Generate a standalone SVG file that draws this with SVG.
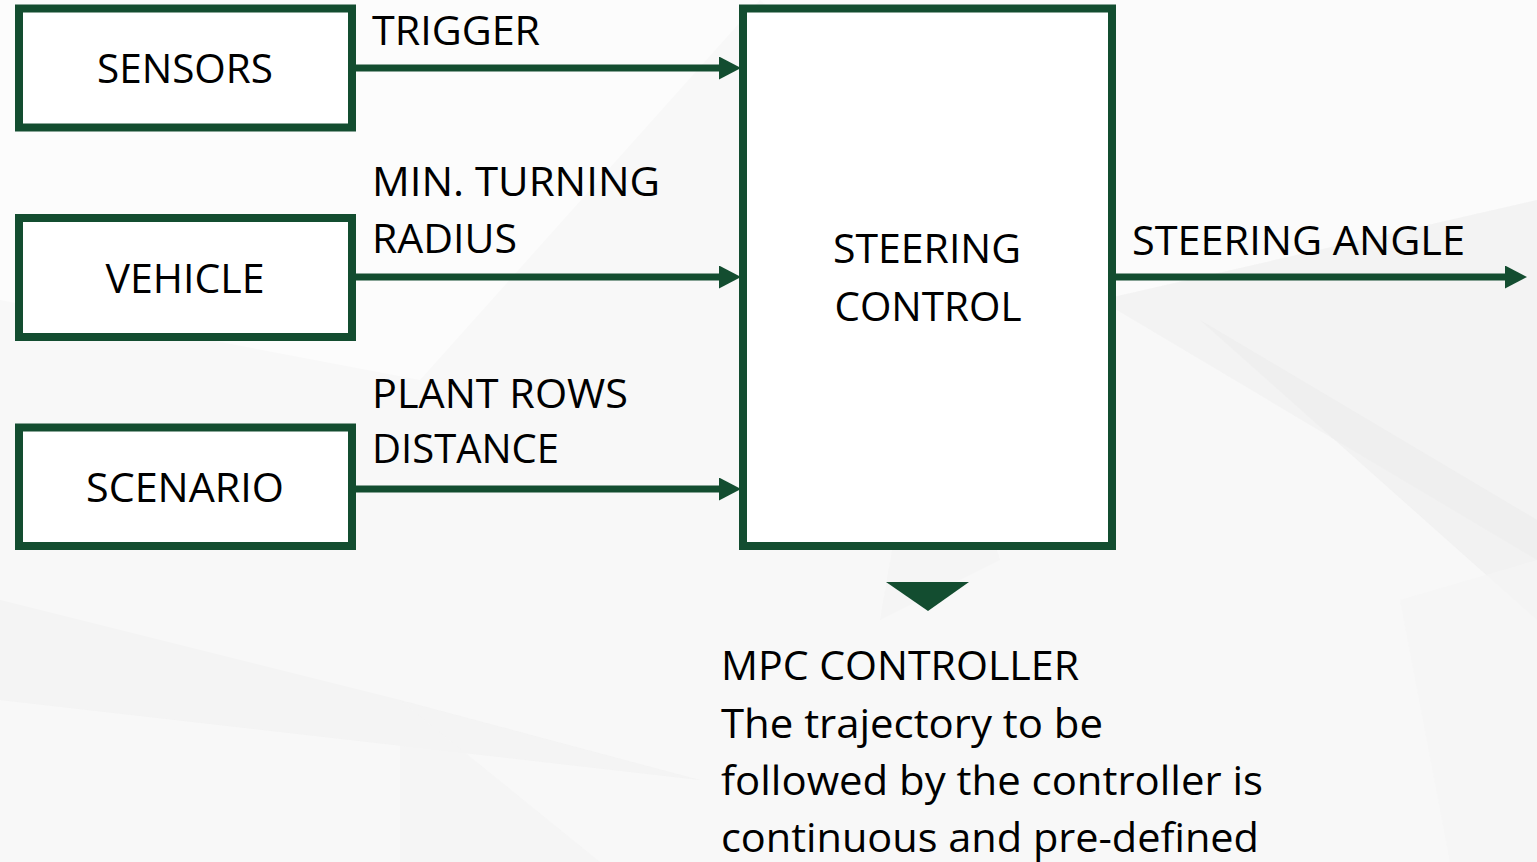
<svg xmlns="http://www.w3.org/2000/svg" width="1537" height="862" viewBox="0 0 1537 862">
  <defs>
    <style>
      .box { fill: #ffffff; stroke: #134d30; stroke-width: 8; }
      .conn { stroke: #134d30; stroke-width: 7; fill: none; }
      .t { font-family: "Open Sans", "Liberation Sans", sans-serif; font-size: 40px; fill: #000000; }
      .c { text-anchor: middle; }
    </style>
    <marker id="ah" markerUnits="userSpaceOnUse" markerWidth="23" markerHeight="24" refX="0" refY="11.5" orient="auto">
      <path d="M0,0 L22,11.5 L0,23 Z" fill="#134d30"/>
    </marker>
  </defs>

  <g id="background">
    <rect x="0" y="0" width="1537" height="862" fill="#f8f8f8"/>
    <polygon points="0,0 760,0 420,380 0,300" fill="#fcfcfc"/>
    <polygon points="760,0 1537,0 1537,200 1100,300" fill="#fbfbfb"/>
    <polygon points="1100,300 1537,200 1537,560" fill="#f0f0f0" opacity="0.6"/>
    <polygon points="1200,320 1537,520 1537,620" fill="#ebebeb" opacity="0.5"/>
    <polygon points="0,600 400,700 700,780 0,700" fill="#f0f0f0" opacity="0.5"/>
    <polygon points="400,700 600,862 400,862" fill="#f4f4f4" opacity="0.8"/>
    <polygon points="930,330 1000,560 880,620" fill="#f3f3f3" opacity="0.7"/>
    <polygon points="1400,600 1537,560 1537,862 1450,862" fill="#f5f5f5" opacity="0.7"/>
  </g>

  <g id="connectors">
    <line class="conn" x1="356" y1="68" x2="719" y2="68" marker-end="url(#ah)"/>
    <line class="conn" x1="356" y1="277" x2="719" y2="277" marker-end="url(#ah)"/>
    <line class="conn" x1="356" y1="489" x2="719" y2="489" marker-end="url(#ah)"/>
    <line class="conn" x1="1116" y1="277" x2="1505" y2="277" marker-end="url(#ah)"/>
    <polygon points="886,582 969,582 928,611" fill="#134d30"/>
  </g>

  <g id="sensors">
    <rect class="box" x="19" y="8.5" width="333" height="119"/>
    <text class="t c" x="185" y="83" textLength="176" lengthAdjust="spacingAndGlyphs">SENSORS</text>
  </g>
  <g id="vehicle">
    <rect class="box" x="19" y="218" width="333" height="119"/>
    <text class="t c" x="185" y="293" textLength="159" lengthAdjust="spacingAndGlyphs">VEHICLE</text>
  </g>
  <g id="scenario">
    <rect class="box" x="19" y="427.5" width="333" height="118.5"/>
    <text class="t c" x="185" y="502" textLength="198" lengthAdjust="spacingAndGlyphs">SCENARIO</text>
  </g>
  <g id="steering-control">
    <rect class="box" x="743" y="8.5" width="369" height="537.5"/>
    <text class="t c" x="927" y="263" textLength="188" lengthAdjust="spacingAndGlyphs">STEERING</text>
    <text class="t c" x="928" y="321" textLength="187" lengthAdjust="spacingAndGlyphs">CONTROL</text>
  </g>

  <g id="labels">
    <text class="t" x="372" y="45" textLength="168" lengthAdjust="spacingAndGlyphs">TRIGGER</text>
    <text class="t" x="372" y="196" textLength="288" lengthAdjust="spacingAndGlyphs">MIN. TURNING</text>
    <text class="t" x="372" y="253" textLength="145" lengthAdjust="spacingAndGlyphs">RADIUS</text>
    <text class="t" x="372" y="408" textLength="256" lengthAdjust="spacingAndGlyphs">PLANT ROWS</text>
    <text class="t" x="372" y="463" textLength="187" lengthAdjust="spacingAndGlyphs">DISTANCE</text>
    <text class="t" x="1132" y="255" textLength="333" lengthAdjust="spacingAndGlyphs">STEERING ANGLE</text>
  </g>

  <g id="mpc-note">
    <text class="t" x="721" y="680" textLength="358" lengthAdjust="spacingAndGlyphs">MPC CONTROLLER</text>
    <text class="t" x="721" y="738" textLength="382" lengthAdjust="spacingAndGlyphs">The trajectory to be</text>
    <text class="t" x="721" y="795" textLength="542" lengthAdjust="spacingAndGlyphs">followed by the controller is</text>
    <text class="t" x="721" y="852" textLength="538" lengthAdjust="spacingAndGlyphs">continuous and pre-defined</text>
  </g>
</svg>
